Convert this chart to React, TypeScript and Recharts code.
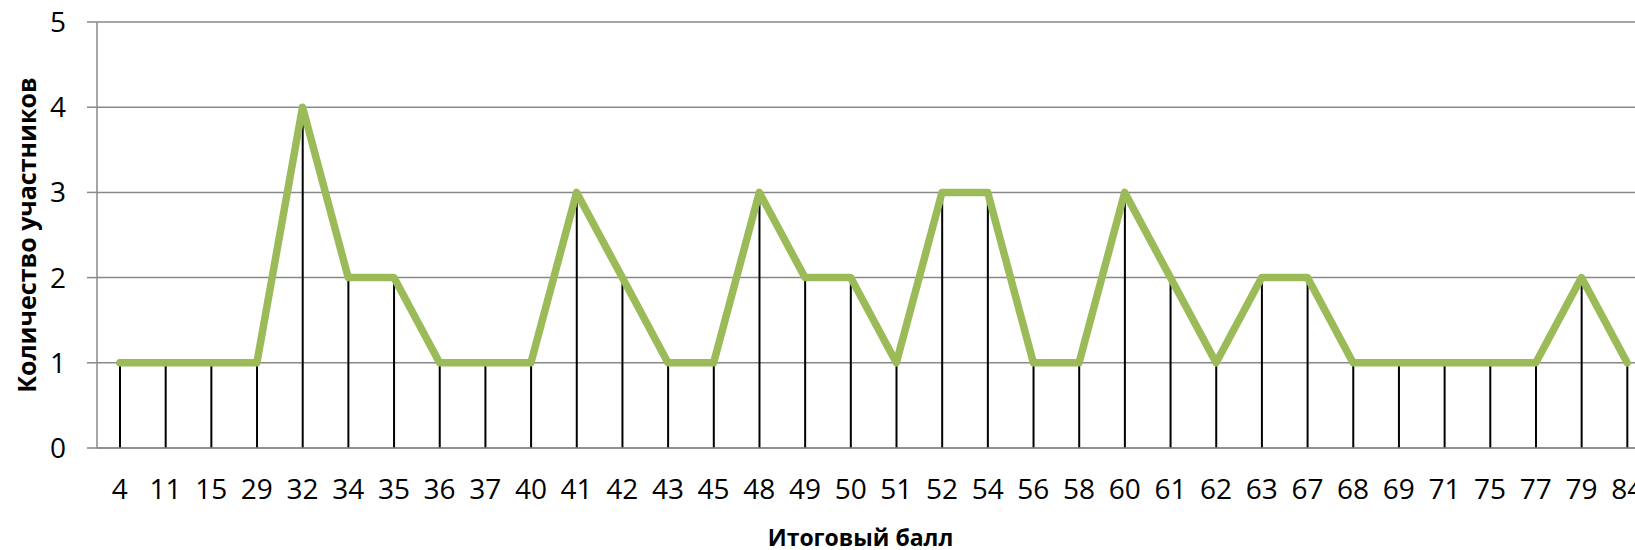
import React from 'react';
import { ComposedChart, Line, Bar, XAxis, YAxis, CartesianGrid } from 'recharts';

const scores = ['4', '11', '15', '29', '32', '34', '35', '36', '37', '40', '41', '42', '43', '45', '48', '49', '50', '51', '52', '54', '56', '58', '60', '61', '62', '63', '67', '68', '69', '71', '75', '77', '79', '84'];
const counts = [1, 1, 1, 1, 4, 2, 2, 1, 1, 1, 3, 2, 1, 1, 3, 2, 2, 1, 3, 3, 1, 1, 3, 2, 1, 2, 2, 1, 1, 1, 1, 1, 2, 1];
const yTicks = [0, 1, 2, 3, 4, 5];
const xTitle = 'Итоговый балл';
const yTitle = 'Количество участников';

const data = scores.map((s, i) => ({ score: s, count: counts[i] }));

const FONT = '"Open Sans", sans-serif';
const GRID = '#898989';

const XTitle = (props: any) => {
  const vb = props.viewBox || {};
  const cx = vb.x + vb.width / 2 - 13;
  return (
    <text x={cx} y={546} textAnchor="middle" fontFamily={FONT} fontWeight={700} fontSize={23} fill="#000">
      {xTitle}
    </text>
  );
};

const YTitle = (props: any) => {
  const vb = props.viewBox || {};
  const cy = vb.y + vb.height / 2;
  const cx = 26;
  return (
    <text x={cx} y={cy} transform={`rotate(-90 ${cx} ${cy})`} textAnchor="middle" dominantBaseline="central" fontFamily={FONT} fontWeight={700} fontSize={25} fill="#000">
      {yTitle}
    </text>
  );
};

export default function App() {
  return (
    <div style={{ position: 'absolute', left: 0, top: 0, width: 1635, height: 550, overflow: 'hidden', background: '#fff' }}>
      <ComposedChart width={1660} height={550} data={data} margin={{ top: 22, right: 10, bottom: 0, left: 0 }}>
        <CartesianGrid vertical={false} stroke={GRID} strokeWidth={1.5} />
        <XAxis
          dataKey="score"
          axisLine={{ stroke: GRID, strokeWidth: 1.5 }}
          tickLine={false}
          tickSize={0}
          tickMargin={31}
          height={102}
          interval={0}
          tick={{ fontFamily: FONT, fontSize: 28, fill: '#000' }}
          label={<XTitle />}
        />
        <YAxis
          domain={[0, 5]}
          ticks={yTicks}
          width={97}
          axisLine={{ stroke: GRID, strokeWidth: 1.5 }}
          tickLine={{ stroke: GRID, strokeWidth: 1.5 }}
          tickSize={10}
          tickMargin={21}
          tick={{ fontFamily: FONT, fontSize: 28, fill: '#000' }}
          label={<YTitle />}
        />
        <Line
          dataKey="count"
          stroke="#9BBB59"
          strokeWidth={7.5}
          strokeLinejoin="round"
          strokeLinecap="round"
          dot={false}
          activeDot={false}
          isAnimationActive={false}
        />
        <Bar dataKey="count" barSize={2} fill="#000" isAnimationActive={false} />
      </ComposedChart>
    </div>
  );
}
